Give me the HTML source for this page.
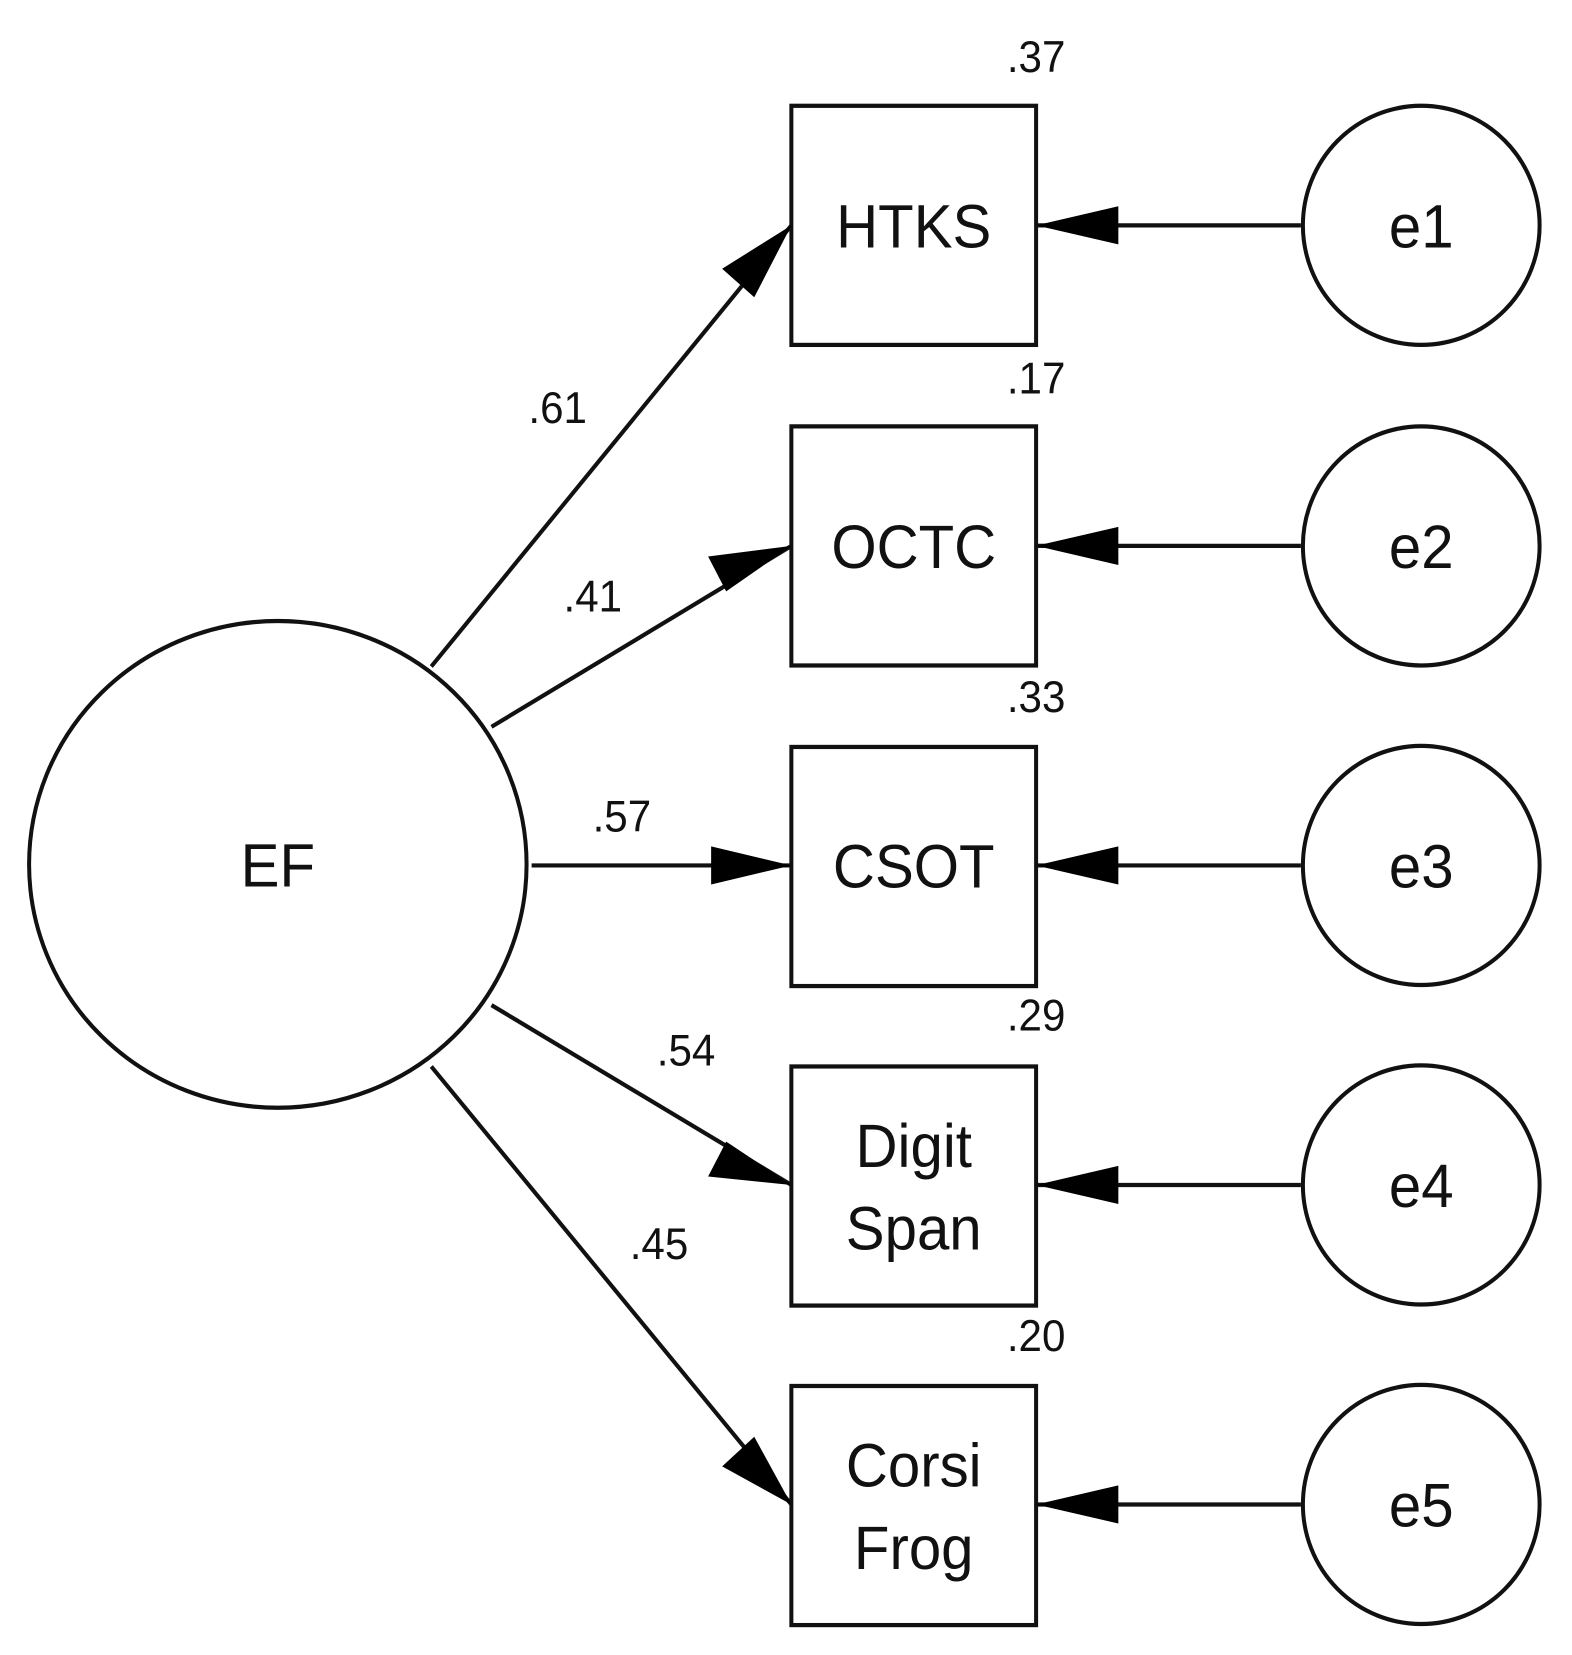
<!DOCTYPE html>
<html><head><style>body{margin:0;background:#fff}svg{display:block}</style></head><body>
<svg width="1572" height="1655" viewBox="0 0 1572 1655" xmlns="http://www.w3.org/2000/svg" font-family="Liberation Sans, Arial, sans-serif">
<g transform="scale(1.003,1.058)">
<g fill="none" stroke="#111" stroke-width="4">
<ellipse cx="277" cy="817" rx="248" ry="230"/>
<rect x="789" y="100" width="244" height="226"/>
<rect x="789" y="403" width="244" height="226"/>
<rect x="789" y="706" width="244" height="226"/>
<rect x="789" y="1008" width="244" height="226"/>
<rect x="789" y="1310" width="244" height="226"/>
<ellipse cx="1417" cy="213" rx="118" ry="113"/>
<ellipse cx="1417" cy="516" rx="118" ry="113"/>
<ellipse cx="1417" cy="818" rx="118" ry="113"/>
<ellipse cx="1417" cy="1120" rx="118" ry="113"/>
<ellipse cx="1417" cy="1422" rx="118" ry="113"/>
<line x1="430" y1="630" x2="789" y2="213"/>
<line x1="490" y1="687" x2="789" y2="516"/>
<line x1="530" y1="818" x2="789" y2="818"/>
<line x1="490" y1="950" x2="789" y2="1120"/>
<line x1="430" y1="1008" x2="789" y2="1422"/>
<line x1="1297" y1="213" x2="1033" y2="213"/>
<line x1="1297" y1="516" x2="1033" y2="516"/>
<line x1="1297" y1="818" x2="1033" y2="818"/>
<line x1="1297" y1="1120" x2="1033" y2="1120"/>
<line x1="1297" y1="1422" x2="1033" y2="1422"/>
</g>
<g fill="#000">
<path d="M789,213 L752,281 L720,254 z"/>
<path d="M789,516 L724,559 L706,526 z"/>
<path d="M789,818 L709,800 L709,836 z"/>
<path d="M789,1120 L706,1112 L724,1079 z"/>
<path d="M789,1422 L720,1386 L752,1358 z"/>
<path d="M1033,213 L1115,195 L1115,231 z"/>
<path d="M1033,516 L1115,498 L1115,534 z"/>
<path d="M1033,818 L1115,800 L1115,836 z"/>
<path d="M1033,1120 L1115,1102 L1115,1138 z"/>
<path d="M1033,1422 L1115,1404 L1115,1440 z"/>
</g>
<g font-size="58" text-anchor="middle" fill="#111">
<text x="277" y="838">EF</text>
<text x="911" y="234">HTKS</text>
<text x="911" y="537">OCTC</text>
<text x="911" y="839">CSOT</text>
<text x="911" y="1103">Digit</text>
<text x="911" y="1181">Span</text>
<text x="911" y="1405">Corsi</text>
<text x="911" y="1483">Frog</text>
<text x="1417" y="234">e1</text>
<text x="1417" y="537">e2</text>
<text x="1417" y="839">e3</text>
<text x="1417" y="1141">e4</text>
<text x="1417" y="1443">e5</text>
</g>
<g font-size="42" text-anchor="middle" fill="#111">
<text x="1033" y="68">.37</text>
<text x="1033" y="372">.17</text>
<text x="1033" y="673">.33</text>
<text x="1033" y="974">.29</text>
<text x="1033" y="1277">.20</text>
<text x="556" y="400">.61</text>
<text x="591" y="578">.41</text>
<text x="620" y="786">.57</text>
<text x="684" y="1007">.54</text>
<text x="657" y="1190">.45</text>
</g>
</g>
</svg>
</body></html>
